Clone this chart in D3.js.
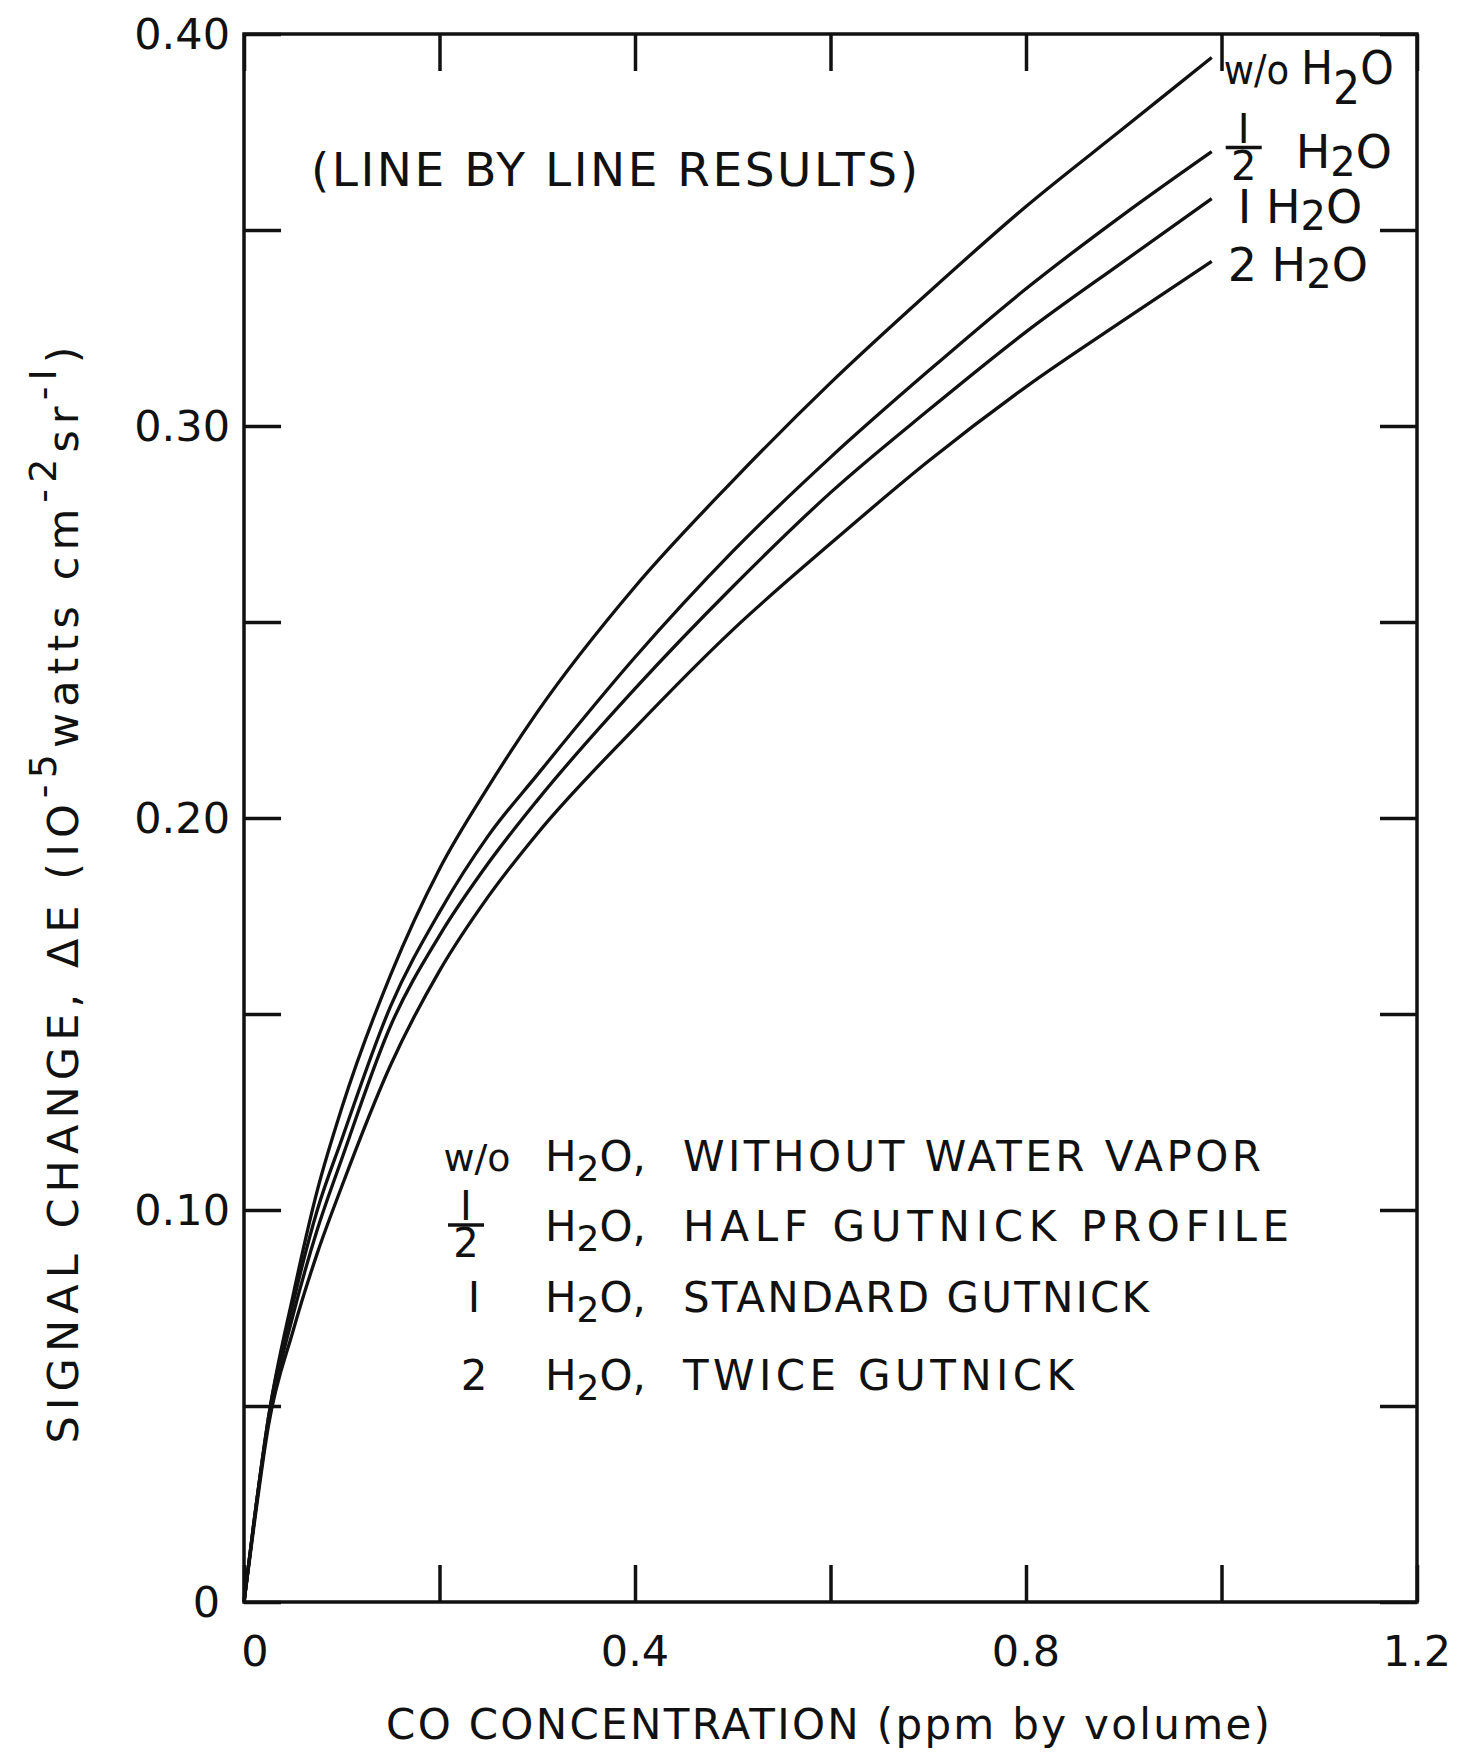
<!DOCTYPE html>
<html>
<head>
<meta charset="utf-8">
<script src="https://cdn.jsdelivr.net/npm/d3@7"></script>
<style>
  body { margin: 0; background: #fff; }
  text { font-family: "DejaVu Sans", sans-serif; fill: #111; }
</style>
</head>
<body>
<div id="chart"></div>
<script>
// CO concentration (ppm by volume) where the curves were read
var concentration = [0, 0.01, 0.025, 0.05, 0.075, 0.1, 0.15, 0.2, 0.25, 0.3, 0.4, 0.5, 0.6, 0.7, 0.8, 0.9, 0.99];

// signal change, 10^-5 watts cm^-2 sr^-1
var withoutWater  = [0, 0.020, 0.047, 0.078, 0.105, 0.126, 0.160, 0.187, 0.208, 0.227, 0.259, 0.286, 0.311, 0.334, 0.356, 0.376, 0.394];
var halfWater     = [0, 0.020, 0.047, 0.076, 0.100, 0.118, 0.152, 0.176, 0.1955, 0.211, 0.241, 0.268, 0.292, 0.314, 0.335, 0.354, 0.370];
var standardWater = [0, 0.020, 0.046, 0.073, 0.095, 0.113, 0.147, 0.170, 0.1885, 0.2045, 0.233, 0.259, 0.283, 0.304, 0.324, 0.342, 0.358];
var twiceWater    = [0, 0.019, 0.045, 0.069, 0.089, 0.106, 0.137, 0.161, 0.180, 0.196, 0.223, 0.248, 0.270, 0.291, 0.310, 0.327, 0.342];

var seriesNotes = ["WITHOUT WATER VAPOR", "HALF GUTNICK PROFILE", "STANDARD GUTNICK", "TWICE GUTNICK"];

var xTickValues = [0, 0.2, 0.4, 0.6, 0.8, 1.0, 1.2];
var xLabelValues = [0, 0.4, 0.8, 1.2];
var xLabelText = ["0", "0.4", "0.8", "1.2"];
var yTickValues = [0, 0.05, 0.1, 0.15, 0.2, 0.25, 0.3, 0.35, 0.4];
var yLabelValues = [0, 0.1, 0.2, 0.3, 0.4];
var yLabelText = ["0", "0.10", "0.20", "0.30", "0.40"];

var width = 1457,
  height = 1754,
  plotLeft = 244,
  plotRight = 1417,
  plotTop = 34,
  plotBottom = 1602,
  tickLen = 37;

var svg = d3
  .select("#chart")
  .append("svg")
  .attr("width", width)
  .attr("height", height);

var x = d3.scaleLinear().domain([0, 1.2]).range([plotLeft, plotRight]);
var y = d3.scaleLinear().domain([0, 0.4]).range([plotBottom, plotTop]);

// inward ticks on all four sides
svg.append("g")
  .attr("transform", `translate(0,${plotBottom})`)
  .call(d3.axisBottom(x).tickValues(xTickValues).tickSize(-tickLen).tickFormat(""));
svg.append("g")
  .attr("transform", `translate(0,${plotTop})`)
  .call(d3.axisTop(x).tickValues(xTickValues).tickSize(-tickLen).tickFormat(""));
svg.append("g")
  .attr("transform", `translate(${plotLeft},0)`)
  .call(d3.axisLeft(y).tickValues(yTickValues).tickSize(-tickLen).tickFormat(""));
svg.append("g")
  .attr("transform", `translate(${plotRight},0)`)
  .call(d3.axisRight(y).tickValues(yTickValues).tickSize(-tickLen).tickFormat(""));

svg.selectAll(".domain").remove();
svg.selectAll(".tick line").attr("stroke", "#111").attr("stroke-width", 3.5);

// frame
svg.append("rect")
  .attr("x", plotLeft)
  .attr("y", plotTop)
  .attr("width", plotRight - plotLeft)
  .attr("height", plotBottom - plotTop)
  .attr("fill", "none")
  .attr("stroke", "#111")
  .attr("stroke-width", 3.5);

// tick labels
svg.selectAll("xlabels")
  .data(xLabelValues)
  .enter()
  .append("text")
  .attr("x", (d, i) => x(d) + (i == 0 ? 11 : 0))
  .attr("y", plotBottom + 64)
  .attr("text-anchor", "middle")
  .style("font-size", "43px")
  .text((d, i) => xLabelText[i]);

svg.selectAll("ylabels")
  .data(yLabelValues)
  .enter()
  .append("text")
  .attr("x", (d, i) => (i == 0 ? plotLeft - 24 : plotLeft - 14))
  .attr("y", d => y(d) + 15)
  .attr("text-anchor", "end")
  .style("font-size", "43px")
  .text((d, i) => yLabelText[i]);

// axis titles
svg.append("text")
  .attr("x", 828)
  .attr("y", 1739)
  .attr("text-anchor", "middle")
  .attr("textLength", 884)
  .attr("lengthAdjust", "spacing")
  .style("font-size", "42px")
  .text("CO CONCENTRATION (ppm by volume)");

var yTitle = svg.append("text")
  .attr("transform", "translate(78,895) rotate(-90)")
  .attr("text-anchor", "middle")
  .attr("textLength", 1097)
  .attr("lengthAdjust", "spacing")
  .style("font-size", "43px");
yTitle.append("tspan").text("SIGNAL CHANGE,  \u0394E (IO");
yTitle.append("tspan").attr("dy", -22).style("font-size", "38px").text("-5");
yTitle.append("tspan").attr("dy", 22).text("watts cm");
yTitle.append("tspan").attr("dy", -22).style("font-size", "38px").text("-2");
yTitle.append("tspan").attr("dy", 22).text("sr");
yTitle.append("tspan").attr("dy", -22).style("font-size", "38px").text("-I");
yTitle.append("tspan").attr("dy", 22).text(")");

// inner title
svg.append("text")
  .attr("x", 311)
  .attr("y", 186)
  .attr("textLength", 607)
  .attr("lengthAdjust", "spacing")
  .style("font-size", "47px")
  .text("(LINE BY LINE RESULTS)");

// curves
var allSeries = [withoutWater, halfWater, standardWater, twiceWater];
var line = d3
  .line()
  .x((d, i) => x(concentration[i]))
  .y(d => y(d))
  .curve(d3.curveMonotoneX);

svg.selectAll("curves")
  .data(allSeries)
  .enter()
  .append("path")
  .attr("d", line)
  .attr("fill", "none")
  .attr("stroke", "#111")
  .attr("stroke-width", 3.3);

// fraction 1/2: both digits in one text, stacked round a bar at cy
function fraction(g, cx, cy, size) {
  var t = g.append("text").attr("text-anchor", "middle").style("font-size", size + "px");
  t.append("tspan").attr("x", cx).attr("y", cy - 5).text("I");
  t.append("tspan").attr("x", cx).attr("y", cy + size * 0.8).text("2");
  g.append("line").attr("x1", cx - size * 0.45).attr("x2", cx + size * 0.45)
    .attr("y1", cy).attr("y2", cy).attr("stroke", "#111").attr("stroke-width", 3.5);
}

// H2O written with a lowered 2
function water(t, drop, subSize) {
  t.append("tspan").text("H");
  t.append("tspan").attr("dy", drop).style("font-size", subSize + "px").text("2");
  t.append("tspan").attr("dy", -drop).text("O");
}

// labels at the curve ends
var endLabels = svg.append("g");
allSeries.forEach(function (s, i) {
  var ex = x(concentration[concentration.length - 1]);
  var ey = y(s[s.length - 1]);
  var tx = ex + 12;
  if (i == 1) {
    fraction(endLabels, tx + 20, ey - 4, 40);
    var t = endLabels.append("text").attr("x", tx + 72).attr("y", ey + 16).style("font-size", "46px");
    water(t, 8, 40);
  } else if (i == 0) {
    var t0 = endLabels.append("text").attr("x", tx).attr("y", ey + 26)
      .attr("textLength", 170).attr("lengthAdjust", "spacingAndGlyphs").style("font-size", "46px");
    t0.append("tspan").style("font-size", "40px").text("w/o ");
    water(t0, 20, 46);
  } else {
    var t2 = endLabels.append("text").attr("x", tx + (i == 2 ? 14 : 4))
      .attr("y", ey + (i == 2 ? 24 : 20)).style("font-size", "46px");
    t2.append("tspan").text(i == 2 ? "I " : "2 ");
    water(t2, 7, 40);
  }
});

// legend block
var legendRows = [1171, 1241, 1312, 1390];
var legend = svg.append("g");
legendRows.forEach(function (ly, i) {
  if (i == 1) {
    fraction(legend, 466, ly - 16, 40);
  } else {
    legend.append("text")
      .attr("x", i == 0 ? 477 : 474)
      .attr("y", ly)
      .attr("text-anchor", "middle")
      .style("font-size", i == 0 ? "38px" : "42px")
      .text(i == 0 ? "w/o" : i == 2 ? "I" : "2");
  }
  var t = legend.append("text").attr("x", 545).attr("y", ly).style("font-size", "42px");
  water(t, 10, 36);
  t.append("tspan").text(",");
  legend.append("text")
    .attr("x", 683)
    .attr("y", ly)
    .attr("textLength", [578, 606, 466, 391][i])
    .attr("lengthAdjust", "spacing")
    .style("font-size", "42px")
    .text(seriesNotes[i]);
});
</script>
</body>
</html>
